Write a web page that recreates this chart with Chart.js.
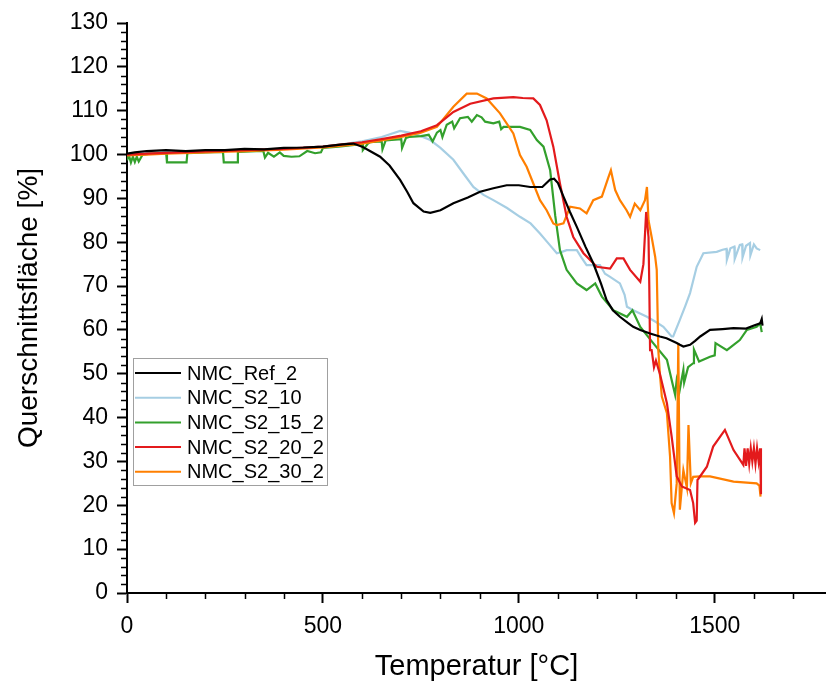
<!DOCTYPE html>
<html>
<head>
<meta charset="utf-8">
<script src="https://cdn.jsdelivr.net/npm/chart.js@4.4.0/dist/chart.umd.min.js"></script>
<style>
html,body{margin:0;padding:0;background:#ffffff;}
#wrap{width:826px;height:682px;position:relative;}
</style>
</head>
<body>
<div id="wrap"><canvas id="c" width="826" height="682"></canvas></div>
<script>
// ---------------- DATA ----------------
const seriesNames = ['NMC_Ref_2', 'NMC_S2_10', 'NMC_S2_15_2', 'NMC_S2_20_2', 'NMC_S2_30_2'];
const seriesColors = ['#000000', '#a6cee3', '#33a02c', '#e31a1c', '#ff7f00'];

const xTitle = 'Temperatur [°C]';
const yTitle = 'Querschnittsfläche [%]';
const xTickValues = [0, 500, 1000, 1500];
const yTickValues = [0, 10, 20, 30, 40, 50, 60, 70, 80, 90, 100, 110, 120, 130];
const xMin = 0, xMax = 1784, xMinorStep = 100;
const yMin = 0, yMax = 130, yMinorStep = 2;

// NMC_Ref_2
const refT = [0,20,50,100,150,200,250,300,350,400,
  450,500,550,578,600,620,646,670,697,715,
  731,757,774,800,833,870,901,935,969,1000,
  1029,1060,1080,1090,1100,1114,1130,1148,1170,1190,
  1210,1224,1240,1258,1280,1292,1310,1335,1360,1377,
  1403,1411,1420,1437,1450,1463,1488,1520,1548,1580,
  1600,1616,1620,1622];
const refV = [100.2,100.5,100.8,101,100.8,101,101,101.3,101.2,101.5,
  101.6,101.8,102.3,102.5,101.8,100.8,99.5,97.5,94.2,91.5,
  88.9,87,86.7,87.3,88.9,90.2,91.5,92.3,93,93,
  92.6,92.6,94.3,94.5,93.5,90.4,87,83.5,79,75.2,
  70.5,66.8,64.5,63,61.5,60.7,60,59.2,58.5,58.1,
  57,56.6,56.2,56.6,57.5,58.5,60,60.2,60.4,60.3,
  61,61.5,62.5,61];

// NMC_S2_10
const s10T = [0,50,100,200,300,400,500,550,600,650,
  697,720,750,774,800,833,860,884,910,935,
  970,1003,1030,1054,1075,1097,1110,1122,1148,1160,
  1173,1207,1220,1233,1258,1270,1276,1292,1327,1350,
  1369,1390,1394,1411,1425,1437,1454,1471,1505,1520,
  1530,1531,1540,1550,1551,1564,1570,1571,1580,1590,
  1591,1600,1607,1616];
const s10V = [100,100.3,100.5,100.8,101,101.3,101.8,102.3,103,104,
  105.4,105,104.2,103.3,101.5,98.8,95.5,92.6,90.8,89.6,
  87.8,85.8,84.3,82,79.8,77.5,77.8,78.2,78.2,76.5,
  74.8,74.8,72.8,72.1,70.6,68,65.3,64.5,63,61.8,
  60.7,58.5,58.5,62.3,65.5,68.4,74.4,77.5,77.8,78.3,
  78.5,76,78.6,79,76.2,79.4,79.5,76.5,79.2,79.8,
  77,79.5,78.6,78.2];

// NMC_S2_15_2
const s15T = [0,5,10,15,20,25,30,40,60,100,
  102,152,154,200,245,247,281,283,330,348,
  352,360,375,390,400,420,440,460,480,495,
  500,540,580,600,602,615,620,650,652,660,
  700,702,712,720,750,770,780,791,800,805,
  816,830,835,850,870,880,893,905,914,935,
  950,955,961,1003,1029,1046,1063,1080,1093,1105,
  1122,1148,1173,1195,1212,1241,1276,1290,1310,1343,
  1378,1399,1403,1410,1420,1422,1432,1445,1447,1460,
  1488,1500,1502,1531,1564,1582,1607,1616,1620];
const s15V = [98.7,99.8,98.2,99.5,98.3,99.5,98.4,100,100.2,100.3,
  98.2,98.2,100.3,100.5,100.6,98.2,98.2,100.6,100.8,100.8,
  99.3,100.4,99.5,100.5,99.7,99.5,99.6,100.8,100.3,100.5,
  101.5,101.8,102.2,102.4,101,102.5,102.8,103,101.2,103.2,
  103.5,101.5,103.8,104,104.2,104.5,103,105,105.6,104,
  106.8,107.5,106,108.3,108.6,107.5,109,108.5,107.5,107.1,
  107.5,105.8,106.3,106.3,105.6,103.3,101.8,96.4,86,78.2,
  73.7,70.6,69.1,70.6,67.6,64.5,63,64.5,60.7,57,
  53.2,45.2,48.6,46,50.9,48,51.5,52.4,55.5,52.8,
  53.9,54.2,57,55.4,57.7,60,60.7,61.5,59.5];

// NMC_S2_20_2
const s20T = [0,50,100,200,300,400,500,550,600,650,
  700,750,791,833,876,935,986,1010,1037,1054,
  1071,1088,1105,1122,1139,1165,1199,1233,1250,1267,
  1284,1310,1318,1325,1331,1333,1335,1339,1345,1350,
  1360,1378,1390,1403,1416,1437,1445,1450,1454,1456,
  1458,1480,1496,1526,1548,1573,1576,1580,1584,1588,
  1592,1596,1600,1604,1608,1612,1616,1618];
const s20V = [100,100.2,100.4,100.7,101,101.3,101.8,102.3,102.8,103.5,
  104.3,105.3,106.7,109.7,111.6,112.8,113.1,112.9,112.8,111.3,
  107.8,101.8,93.4,85.8,81.2,77.5,74.4,74,76.3,76.3,
  73.7,71,75,86.9,81.2,70,55.4,55.4,51.5,53,
  50,43.3,35.7,26.6,24.3,23.5,20.5,16,16.5,25.8,
  26,28.8,33.4,37.2,32.6,29.2,33,29,33,29.5,
  33,30,33,29.5,33,30,33,22.5];

// NMC_S2_30_2
const s30T = [0,50,100,200,300,400,500,550,600,650,
  700,750,791,833,867,893,918,952,986,1003,
  1020,1037,1054,1071,1088,1097,1114,1131,1156,1173,
  1190,1212,1229,1235,1246,1258,1275,1284,1296,1310,
  1322,1327,1331,1339,1348,1352,1356,1360,1365,1378,
  1386,1390,1396,1403,1407,1411,1420,1429,1433,1439,
  1445,1463,1488,1548,1607,1614,1617];
const s30V = [99.8,100,100.2,100.5,100.8,101.1,101.6,102,102.5,103.2,
  104,105,106.3,110.9,113.9,113.9,112.8,109.4,104.8,99.9,
  97.2,93.4,89.6,87.3,84.3,83.9,84.3,88.1,87.7,86.6,
  89.6,90.4,94.9,96.4,91.9,89.6,87.3,85.8,88.8,87.3,
  89.6,92.6,85,81.2,76.7,73.7,55.4,50,44.8,41,
  31.1,20.5,18.2,25,57,19,28,24,38.3,25,
  26.5,26.6,26.6,25.4,25,24.5,22];

// ---------------- CHART ----------------
const FONT = "'Liberation Sans', Arial, Helvetica, sans-serif";
const seriesT = [refT, s10T, s15T, s20T, s30T];
const seriesV = [refV, s10V, s15V, s20V, s30V];

const datasets = seriesNames.map((name, k) => ({
  label: name,
  data: seriesT[k].map((t, i) => ({ x: t, y: seriesV[k][i] })),
  borderColor: seriesColors[k],
  backgroundColor: seriesColors[k],
  borderWidth: 2.2,
  showLine: true,
  pointRadius: 0,
  tension: 0,
  fill: false,
  order: [1, 5, 4, 2, 3][k]
}));

const minorTicksPlugin = {
  id: 'minorTicks',
  afterDraw(chart) {
    const { ctx, chartArea: a } = chart;
    const xs = chart.scales.x, ys = chart.scales.y;
    ctx.save();
    ctx.strokeStyle = '#000';
    ctx.lineWidth = 1.5;
    ctx.beginPath();
    for (let v = xMin; v <= xMax + 1e-6; v += xMinorStep) {
      if (xTickValues.includes(v)) continue;
      const px = Math.round(xs.getPixelForValue(v)) + 0.5;
      ctx.moveTo(px, a.bottom);
      ctx.lineTo(px, a.bottom + 6);
    }
    for (let v = yMin; v <= yMax + 1e-6; v += yMinorStep) {
      if (yTickValues.includes(v)) continue;
      const py = Math.round(ys.getPixelForValue(v)) + 0.5;
      ctx.moveTo(a.left - 6, py);
      ctx.lineTo(a.left, py);
    }
    ctx.stroke();
    ctx.restore();
  }
};

const legendPlugin = {
  id: 'boxLegend',
  afterDatasetsDraw(chart) {
    const ctx = chart.ctx;
    const bx = 133, by = 358, bw = 194, bh = 127;
    ctx.save();
    ctx.fillStyle = '#ffffff';
    ctx.fillRect(bx, by, bw, bh);
    ctx.strokeStyle = '#a0a0a0';
    ctx.lineWidth = 1;
    ctx.strokeRect(bx + 0.5, by + 0.5, bw, bh);
    ctx.font = '20px ' + FONT;
    ctx.textBaseline = 'middle';
    ctx.textAlign = 'left';
    chart.data.datasets.forEach((ds, i) => {
      const yy = 373 + i * 24.7;
      ctx.strokeStyle = ds.borderColor;
      ctx.lineWidth = 2;
      ctx.beginPath();
      ctx.moveTo(135, yy);
      ctx.lineTo(181, yy);
      ctx.stroke();
      ctx.fillStyle = '#000';
      ctx.fillText(ds.label, 187, yy + 1);
    });
    ctx.restore();
  }
};

new Chart(document.getElementById('c'), {
  type: 'scatter',
  data: { datasets },
  options: {
    responsive: false,
    animation: false,
    devicePixelRatio: 1,
    layout: { padding: { top: 23, right: 0, bottom: 0, left: 0 } },
    plugins: { legend: { display: false }, tooltip: { enabled: false } },
    scales: {
      x: {
        type: 'linear',
        min: xMin, max: xMax,
        afterBuildTicks: (s) => { s.ticks = xTickValues.map(v => ({ value: v })); },
        ticks: { color: '#000', font: { family: FONT, size: 23 }, padding: 10, maxRotation: 0, autoSkip: false, callback: (v) => String(v) },
        grid: { drawOnChartArea: false, drawTicks: true, tickLength: 10, tickColor: '#000', tickWidth: 2 },
        border: { display: true, color: '#000', width: 2 },
        title: { display: true, text: xTitle, color: '#000', font: { family: FONT, size: 29 }, padding: { top: 0, bottom: -2 } },
        afterFit: (s) => { s.height = 89; }
      },
      y: {
        type: 'linear',
        min: yMin, max: yMax,
        afterBuildTicks: (s) => { s.ticks = yTickValues.map(v => ({ value: v })); },
        ticks: { color: '#000', font: { family: FONT, size: 23 }, padding: 9, autoSkip: false, callback: (v) => String(v) },
        grid: { drawOnChartArea: false, drawTicks: true, tickLength: 10, tickColor: '#000', tickWidth: 2 },
        border: { display: true, color: '#000', width: 2 },
        title: { display: true, text: yTitle, color: '#000', font: { family: FONT, size: 28 }, padding: { top: 12, bottom: 0 } },
        afterFit: (s) => { s.width = 127; }
      }
    }
  },
  plugins: [minorTicksPlugin, legendPlugin]
});
</script>
</body>
</html>
